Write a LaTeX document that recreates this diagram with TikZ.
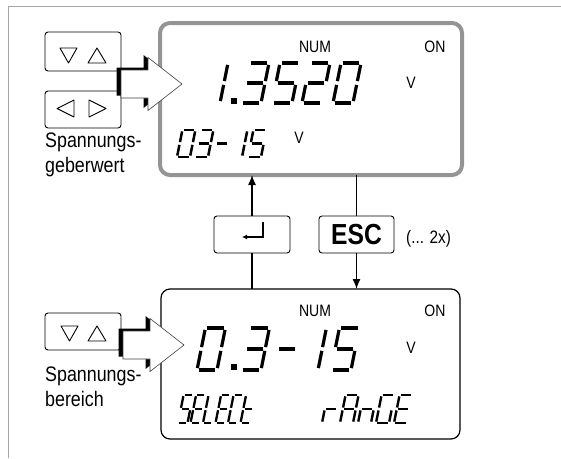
\documentclass[tikz,border=0pt]{standalone}
\usepackage{fontspec}
\setmainfont{Liberation Sans}
\newfontfamily\cond{Liberation Sans}[FakeStretch=0.85]
\usetikzlibrary{arrows.meta}

% seven-segment pieces (local coords: baseline y=0, top y=-H)
\def\lcda{\draw (\G,-\H) -- (\W-\G,-\H);}
\def\lcdb{\draw (\W,-\H+\G) -- (\W,-\H/2-\G);}
\def\lcdc{\draw (\W,-\H/2+\G) -- (\W,-\G);}
\def\lcdd{\draw (\G,0) -- (\W-\G,0);}
\def\lcde{\draw (0,-\G) -- (0,-\H/2+\G);}
\def\lcdf{\draw (0,-\H/2-\G) -- (0,-\H+\G);}
\def\lcdg{\draw (\G,-\H/2) -- (\W-\G,-\H/2);}
\newcommand\lcdchar[7]{%
  \begin{scope}[shift={(#1,#2)}, xslant=0.2, line width=#5, line cap=butt]
    \def\W{#3}\def\H{#4}\def\G{#6}%
    \foreach \s in {#7} {\csname lcd\s\endcsname}
  \end{scope}}
\newcommand\bigdig[3]{\lcdchar{#1}{#2}{20}{#3}{3.2pt}{1.9}}
\newcommand\smalldig[2]{\lcdchar{#1}{157}{13}{27}{2.5pt}{1.4}{#2}}
\newcommand\bigarrow[2]{%
  \begin{scope}[shift={(#1,#2)}]
    \fill[black] (-4.5,-16.5) -- (22.5,-16.5) -- (22.5,-29) -- (56.5,-2.5) -- (22.5,24) -- (22.5,11.5) -- (-4.5,11.5) -- cycle;
    \filldraw[fill=white, draw=black!75, line width=.6pt] (0,-14) -- (27,-14) -- (27,-26.5) -- (61,0) -- (27,26.5) -- (27,14) -- (0,14) -- cycle;
  \end{scope}}

\tikzset{
  keybox/.style={draw, line width=0.9pt, rounded corners=3pt, inner sep=0pt, outer sep=0pt, anchor=north west},
  conn/.style={line width=1.3pt},
  arr/.style={conn, -{Latex[length=10pt,width=8pt]}},
  tri/.style={line width=0.9pt, line join=round},
  lbl/.style={font=\cond\fontsize{21}{25}\selectfont, inner sep=0pt, anchor=base west},
  ind/.style={font=\cond\fontsize{16.5}{20}\selectfont, inner sep=0pt, anchor=base},
}

\begin{document}
\begin{tikzpicture}[x=1pt,y=-1pt]
\useasboundingbox (0,0) rectangle (561,458);
\draw[black!35, line width=0.8pt] (8,458) -- (8,6) -- (561,6);

% displays
\node[draw=black!42, line width=4pt, rounded corners=10pt, minimum width=302pt, minimum height=152pt, inner sep=0pt, outer sep=0pt, anchor=north west] (d1) at (160,23) {};
\node[draw=black, line width=1.2pt, rounded corners=9pt, minimum width=299pt, minimum height=150pt, inner sep=0pt, outer sep=0pt, anchor=north west] (d2) at (161,289) {};

% keys
\node[keybox, minimum width=76pt, minimum height=39pt] (k1) at (45,32) {};
\node[keybox, minimum width=76pt, minimum height=37pt] (k2) at (45,91) {};
\node[keybox, minimum width=76pt, minimum height=37pt] (k3) at (45,313) {};
\node[keybox, minimum width=76pt, minimum height=37pt] (enter) at (214,216) {};
\node[keybox, minimum width=75pt, minimum height=37pt, font=\cond\bfseries\fontsize{29}{30}\selectfont] (esc) at (319,216) {ESC};
\node[font=\cond\fontsize{18}{20}\selectfont, inner sep=0pt, anchor=base west] (esc2x) at (406,243) {(... 2x)};

% key symbols
\draw[tri] (60,48) -- (77,48) -- (68.5,63) -- cycle;
\draw[tri] (88,63) -- (106,63) -- (97,48) -- cycle;
\draw[tri] (57,108.5) -- (74,100) -- (74,117) -- cycle;
\draw[tri] (89,100) -- (89,117) -- (106,108.5) -- cycle;
\draw[tri] (61,326) -- (78,326) -- (69.5,341) -- cycle;
\draw[tri] (88,341) -- (106,341) -- (97,326) -- cycle;
\draw[line width=1.3pt, -{Latex[length=5pt,width=5pt]}] (263,222) -- (263,237) -- (242,237);

% connectors
\draw[arr] (enter.north) -- (enter.north |- d1.south);
\draw[conn] (enter.south) -- (enter.south |- d2.north);
\draw[conn] (esc.north |- d1.south) -- (esc.north);
\draw[arr] (esc.south) -- (esc.south |- d2.north);

% big arrows
\bigarrow{121}{84}
\bigarrow{123}{345}

% labels
\node[lbl] (l1) at (45,147) {Spannungs-};
\node[lbl] (l2) at (45,172) {geberwert};
\node[lbl] (l3) at (45,381) {Spannungs-};
\node[lbl] (l4) at (45,406) {bereich};

% indicators
\node[ind] (num1) at (315,52) {NUM};
\node[ind] (on1) at (435,52) {ON};
\node[ind] (v1) at (411,88) {V};
\node[ind] (v2) at (299,143) {V};
\node[ind] (num2) at (315,316) {NUM};
\node[ind] (on2) at (435,316) {ON};
\node[ind] (v3) at (411,353) {V};

% top display digits 1.3520
\bigdig{200}{103}{40}{b,c}
\fill (231,98) rectangle (237,104);
\bigdig{241}{103}{40}{a,b,g,c,d}
\bigdig{272}{103}{40}{a,f,g,c,d}
\bigdig{302}{103}{40}{a,b,g,e,d}
\bigdig{333}{103}{40}{a,b,c,d,e,f}
% 03- 15
\smalldig{177}{a,b,c,d,e,f}
\smalldig{195}{a,b,g,c,d}
\smalldig{213}{g}
\smalldig{229}{b,c}
\smalldig{248}{a,f,g,c,d}

% bottom display 0.3- 15
\bigdig{197}{370}{42}{a,b,c,d,e,f}
\fill (231,364) rectangle (237,370);
\bigdig{241}{370}{42}{a,b,g,c,d}
\bigdig{273}{370}{42}{g}
\bigdig{298}{370}{42}{b,c}
\bigdig{331}{370}{42}{a,f,g,c,d}
% SELECt
\lcdchar{178}{423}{9.5}{28}{2.3pt}{1.2}{a,f,g,c,d}
\lcdchar{190.5}{423}{9.5}{28}{2.3pt}{1.2}{a,f,g,e,d}
\lcdchar{203}{423}{9.5}{28}{2.3pt}{1.2}{f,e,d}
\lcdchar{215.5}{423}{9.5}{28}{2.3pt}{1.2}{a,f,g,e,d}
\lcdchar{228}{423}{9.5}{28}{2.3pt}{1.2}{a,f,e,d}
\lcdchar{240.5}{423}{9.5}{28}{2.3pt}{1.2}{f,g,e,d}
% rAnGE
\lcdchar{322}{423}{13}{28}{2.4pt}{1.4}{e,g}
\lcdchar{340}{423}{13}{28}{2.4pt}{1.4}{a,b,c,e,f,g}
\lcdchar{358}{423}{13}{28}{2.4pt}{1.4}{c,e,g}
\lcdchar{376}{423}{13}{28}{2.4pt}{1.4}{a,c,d,e,f}
\lcdchar{394}{423}{13}{28}{2.4pt}{1.4}{a,d,e,f,g}
\end{tikzpicture}
\end{document}
